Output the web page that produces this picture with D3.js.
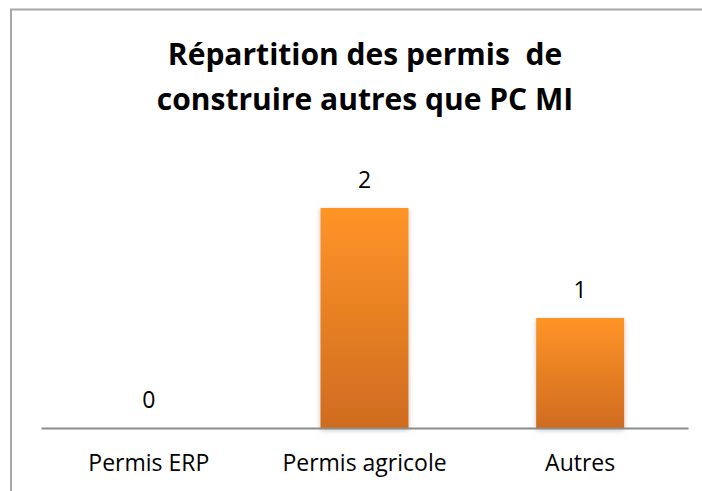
<!DOCTYPE html>
<html>
<head>
<meta charset="utf-8">
<script src="https://cdn.jsdelivr.net/npm/d3@7"></script>
<style>
  body { margin: 0; background: #fff; }
  svg text { font-family: "Open Sans", "Noto Sans", sans-serif; fill: #000; }
</style>
</head>
<body>
<div id="chart"></div>
<script>
// data
var categories = ["Permis ERP", "Permis agricole", "Autres"],
  values = [0, 2, 1],
  titleLines = ["Répartition des permis  de", "construire autres que PC MI"];

// placement
var width = 702,
  height = 491,
  axisY = 428,
  left = 41,
  right = 688;

var svg = d3.select("#chart")
  .append("svg")
  .attr("width", width)
  .attr("height", height);

var defs = svg.append("defs");

var grad = defs.append("linearGradient")
  .attr("id", "barGrad")
  .attr("x1", 0).attr("y1", 0)
  .attr("x2", 0).attr("y2", 1);
grad.append("stop").attr("offset", "0%").attr("stop-color", "#ff9428");
grad.append("stop").attr("offset", "100%").attr("stop-color", "#cf6c1f");

var shadow = defs.append("filter")
  .attr("id", "shadow")
  .attr("x", "-20%").attr("y", "-10%")
  .attr("width", "140%").attr("height", "125%");
shadow.append("feDropShadow")
  .attr("dx", 0).attr("dy", 2)
  .attr("stdDeviation", 2.5)
  .attr("flood-color", "#000")
  .attr("flood-opacity", 0.25);

// chart frame (runs off right and bottom edges)
svg.append("rect")
  .attr("x", 11)
  .attr("y", 9.5)
  .attr("width", 760)
  .attr("height", 560)
  .attr("fill", "none")
  .attr("stroke", "#a6a6a6")
  .attr("stroke-width", 2);

// title
svg.append("g").selectAll("text")
  .data(titleLines)
  .enter().append("text")
  .attr("x", 365)
  .attr("y", function(d, i) { return 65 + i * 45; })
  .attr("text-anchor", "middle")
  .attr("font-size", 30)
  .attr("font-weight", "bold")
  .style("white-space", "pre")
  .text(function(d) { return d; });

// scales
var x = d3.scaleBand()
  .domain(categories)
  .range([left, right])
  .paddingInner(0.592)
  .paddingOuter(0.296);

var y = d3.scaleLinear()
  .domain([0, 2.5])
  .range([axisY, 153]);

// bars (nothing drawn for zero)
svg.append("g").selectAll("rect")
  .data(values)
  .enter().append("rect")
  .attr("x", function(d, i) { return x(categories[i]); })
  .attr("y", function(d) { return y(d); })
  .attr("width", x.bandwidth())
  .attr("height", function(d) { return y(0) - y(d); })
  .attr("fill", "url(#barGrad)")
  .attr("filter", function(d) { return d > 0 ? "url(#shadow)" : null; })
  .attr("display", function(d) { return d > 0 ? null : "none"; });

// axis
var xAxis = d3.axisBottom(x).tickSize(0);
var ax = svg.append("g")
  .attr("transform", "translate(0," + axisY + ")")
  .call(xAxis);
ax.select(".domain")
  .attr("stroke", "#8c8c8c")
  .attr("stroke-width", 2);
ax.selectAll(".tick text")
  .attr("font-size", 23)
  .attr("dy", 0)
  .attr("y", 43)
  .style("font-family", "'Open Sans', sans-serif")
  .attr("fill", "#000");

// value labels
svg.append("g").selectAll("text")
  .data(values)
  .enter().append("text")
  .attr("x", function(d, i) { return x(categories[i]) + x.bandwidth() / 2; })
  .attr("y", function(d) { return y(d) - 20; })
  .attr("text-anchor", "middle")
  .attr("font-size", 23)
  .text(function(d) { return d; });
</script>
</body>
</html>
